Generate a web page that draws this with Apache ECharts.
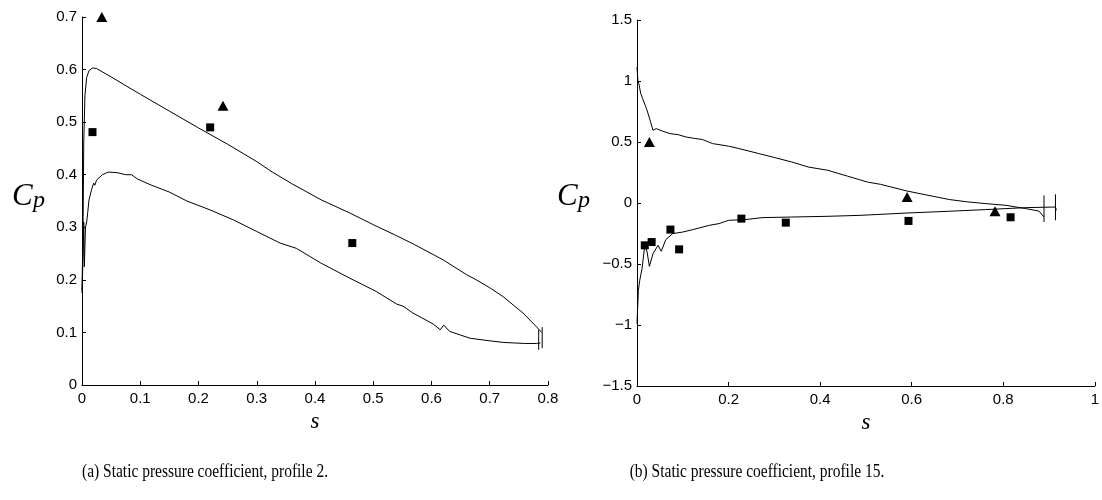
<!DOCTYPE html>
<html>
<head>
<meta charset="utf-8">
<title>Static pressure coefficient</title>
<script src="https://cdn.jsdelivr.net/npm/echarts@6/dist/echarts.min.js"></script>
<style>
  html, body { margin: 0; padding: 0; background: #fff; }
  #chart { width: 1102px; height: 500px; }
</style>
</head>
<body>
<div id="chart"></div>
<script>
// ---- Profile 2: computed Cp along the surface (s, Cp) ----
const p2Upper = [
  [0, 0.18], [0.002, 0.32], [0.003, 0.46], [0.005, 0.55], [0.008, 0.585], [0.012, 0.598],
  [0.018, 0.603], [0.025, 0.602], [0.05, 0.586], [0.1, 0.553], [0.15, 0.521], [0.2, 0.489],
  [0.25, 0.458], [0.3, 0.425], [0.3225, 0.408], [0.36, 0.383], [0.411, 0.352], [0.46, 0.327],
  [0.5, 0.305], [0.54, 0.284], [0.571, 0.267], [0.62, 0.238], [0.66, 0.21], [0.677, 0.2],
  [0.7, 0.185], [0.723, 0.168], [0.757, 0.137], [0.78, 0.111], [0.789, 0.1]
];
const p2Lower = [
  [0, 0.175], [0.002, 0.25], [0.003, 0.31], [0.004, 0.225], [0.006, 0.3], [0.008, 0.31],
  [0.01, 0.33], [0.012, 0.352], [0.016, 0.37], [0.02, 0.384], [0.022, 0.38], [0.025, 0.39],
  [0.035, 0.4], [0.045, 0.405], [0.06, 0.404], [0.075, 0.4], [0.085, 0.4], [0.095, 0.392],
  [0.117, 0.381], [0.15, 0.367], [0.18, 0.35], [0.22, 0.333], [0.26, 0.314], [0.3, 0.292],
  [0.34, 0.27], [0.368, 0.26], [0.41, 0.232], [0.46, 0.203], [0.505, 0.178], [0.54, 0.154],
  [0.551, 0.15], [0.568, 0.137], [0.603, 0.116], [0.615, 0.105], [0.621, 0.114], [0.631, 0.102],
  [0.666, 0.089], [0.7, 0.084], [0.723, 0.081], [0.76, 0.079], [0.78, 0.079], [0.787, 0.08]
];
// trailing-edge spikes
const p2EdgeA = [[0.784, 0.105], [0.784, 0.067]];
const p2EdgeB = [[0.79, 0.11], [0.79, 0.07]];
// measured points
const p2Triangles = [[0.034, 0.70], [0.242, 0.531]];
const p2Squares = [[0.018, 0.481], [0.22, 0.49], [0.464, 0.27]];

// ---- Profile 15 ----
const p15Upper = [
  [0, 1.115], [0.002, 1.0], [0.004, 0.98], [0.008, 0.9], [0.0123, 0.856], [0.022, 0.76],
  [0.03, 0.66], [0.035, 0.596], [0.042, 0.61], [0.055, 0.59], [0.072, 0.569], [0.09, 0.56],
  [0.107, 0.541], [0.125, 0.53], [0.143, 0.52], [0.165, 0.487], [0.2, 0.466], [0.223, 0.446],
  [0.266, 0.405], [0.3, 0.373], [0.338, 0.336], [0.374, 0.295], [0.417, 0.268], [0.46, 0.22],
  [0.503, 0.172], [0.532, 0.153], [0.59, 0.098], [0.64, 0.06], [0.683, 0.028], [0.72, 0.01],
  [0.762, -0.005], [0.806, -0.019], [0.849, -0.046], [0.878, -0.066], [0.889, -0.115]
];
const p15Lower = [
  [0, -0.99], [0.003, -0.716], [0.006, -0.634], [0.011, -0.538], [0.014, -0.443], [0.017, -0.347],
  [0.022, -0.4], [0.027, -0.519], [0.035, -0.415], [0.046, -0.347], [0.053, -0.396], [0.063, -0.3],
  [0.078, -0.251], [0.1, -0.238], [0.122, -0.218], [0.158, -0.183], [0.179, -0.169], [0.2, -0.142],
  [0.237, -0.136], [0.273, -0.12], [0.338, -0.115], [0.417, -0.109], [0.489, -0.101], [0.59, -0.082],
  [0.68, -0.068], [0.762, -0.054], [0.849, -0.038], [0.914, -0.033], [0.916, -0.06]
];
const p15EdgeA = [[0.889, 0.063], [0.889, -0.156]];
const p15EdgeB = [[0.914, 0.071], [0.914, -0.142]];
const p15Triangles = [[0.027, 0.5], [0.59, 0.05], [0.782, -0.068]];
const p15Squares = [
  [0.017, -0.347], [0.032, -0.32], [0.073, -0.218], [0.092, -0.38],
  [0.228, -0.128], [0.325, -0.161], [0.593, -0.147], [0.816, -0.117]
];

// ---- axis ticks ----
const p2XTicks = { min: 0, max: 0.8, interval: 0.1 };
const p2YTicks = { min: 0, max: 0.7, interval: 0.1 };
const p15XTicks = { min: 0, max: 1, interval: 0.2 };
const p15YTicks = { min: -1.5, max: 1.5, interval: 0.5 };

const captions = [
  '(a) Static pressure coefficient, profile 2.',
  '(b) Static pressure coefficient, profile 15.'
];

const INK = '#000';
const labelFont = { fontFamily: 'Liberation Sans, Arial, sans-serif', fontSize: 15, color: INK };
const fmt = v => String(+v.toFixed(2)).replace('-', '\u2212');

function valueAxis(gridIndex, ticks, isX) {
  return {
    type: 'value', gridIndex,
    min: ticks.min, max: ticks.max, interval: ticks.interval,
    axisLine: { show: true, onZero: false, lineStyle: { color: INK, width: 1 } },
    axisTick: { show: true, inside: true, length: 4, lineStyle: { color: INK, width: 1 } },
    axisLabel: Object.assign({ margin: isX ? 6 : 5, formatter: fmt, showMinLabel: true, showMaxLabel: true }, labelFont),
    splitLine: { show: false },
    name: isX ? 's' : '',
    nameLocation: 'middle',
    nameGap: 25,
    nameTextStyle: { fontFamily: 'Liberation Serif, serif', fontStyle: 'italic', fontSize: 23, color: INK }
  };
}

function curve(data, xi) {
  return {
    type: 'line', data, xAxisIndex: xi, yAxisIndex: xi,
    showSymbol: false, symbol: 'none', smooth: false, silent: true,
    lineStyle: { color: INK, width: 1 }, animation: false
  };
}
function marks(data, xi, shape) {
  return {
    type: 'scatter', data, xAxisIndex: xi, yAxisIndex: xi, clip: false,
    symbol: shape === 'tri' ? 'triangle' : 'rect',
    symbolSize: shape === 'tri' ? [11, 10] : [8, 8],
    itemStyle: { color: INK, opacity: 1 }, animation: false
  };
}

const cpLabel = (x) => [
  { type: 'text', left: x, top: 181, style: { text: 'C', fontFamily: 'Liberation Serif, serif', fontStyle: 'italic', fontSize: 31, fill: INK } },
  { type: 'text', left: x + 21, top: 189, style: { text: 'p', fontFamily: 'Liberation Serif, serif', fontStyle: 'italic', fontSize: 24, fill: INK } }
];

const captionText = (x, text) => ({
  type: 'text', x, y: 472, scaleX: 0.86,
  style: { text, align: 'center', verticalAlign: 'middle', fontFamily: 'Liberation Serif, serif', fontSize: 18, fill: INK }
});

const chart = echarts.init(document.getElementById('chart'), null, { renderer: 'canvas' });
chart.setOption({
  backgroundColor: '#fff',
  animation: false,
  grid: [
    { left: 82, right: 554, top: 17, bottom: 115 },
    { left: 637, right: 2, top: 20, bottom: 114 }
  ],
  xAxis: [valueAxis(0, p2XTicks, true), valueAxis(1, p15XTicks, true)],
  yAxis: [valueAxis(0, p2YTicks, false), valueAxis(1, p15YTicks, false)],
  series: [
    curve(p2Upper, 0), curve(p2Lower, 0), curve(p2EdgeA, 0), curve(p2EdgeB, 0),
    marks(p2Triangles, 0, 'tri'), marks(p2Squares, 0, 'sq'),
    curve(p15Upper, 1), curve(p15Lower, 1), curve(p15EdgeA, 1), curve(p15EdgeB, 1),
    marks(p15Triangles, 1, 'tri'), marks(p15Squares, 1, 'sq')
  ],
  graphic: [
    ...cpLabel(12),
    ...cpLabel(557),
    captionText(205, captions[0]),
    captionText(757, captions[1])
  ]
});
</script>
</body>
</html>
